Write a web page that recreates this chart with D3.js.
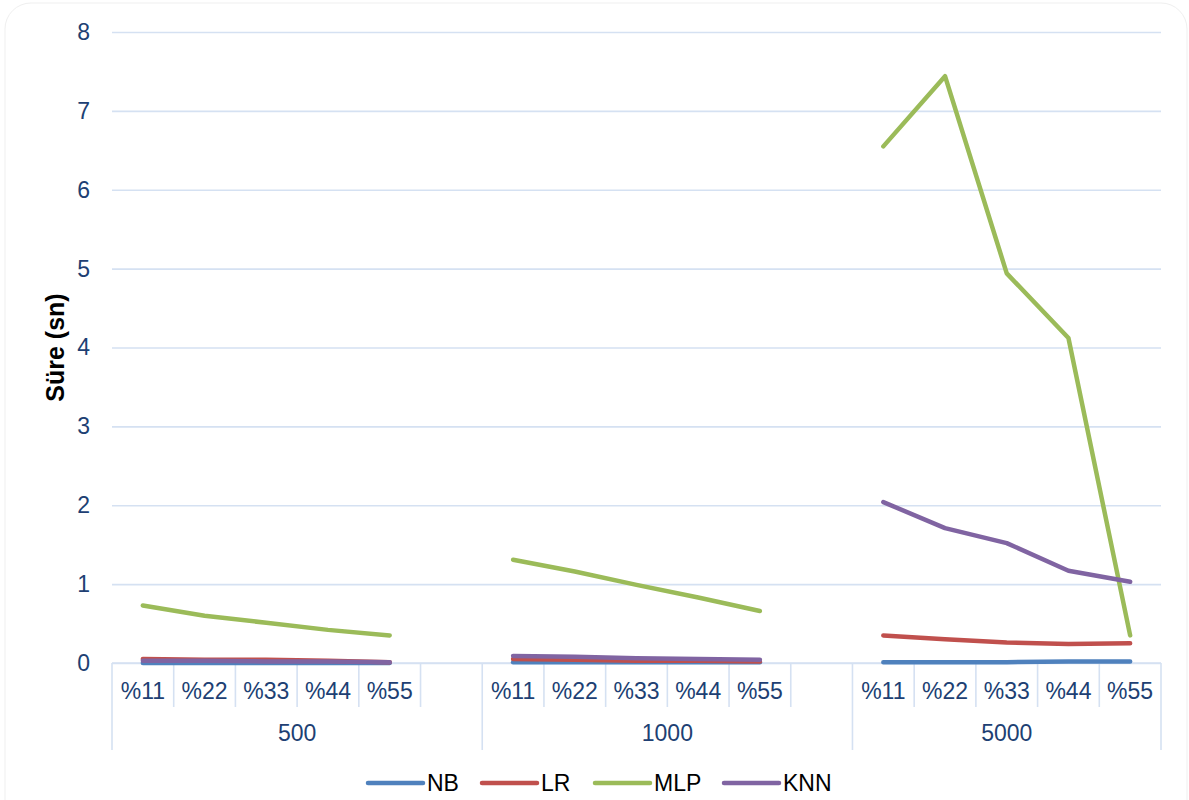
<!DOCTYPE html>
<html>
<head>
<meta charset="utf-8">
<script src="https://cdn.jsdelivr.net/npm/d3@7"></script>
<style>
  html, body { margin: 0; padding: 0; background: #fff; }
  svg { display: block; font-family: "Liberation Sans", Arial, sans-serif; }
</style>
</head>
<body>
<svg id="chart" width="1189" height="800"></svg>
<script>
// ---- data ----
const groups = ["500", "1000", "5000"];
const ratios = ["%11", "%22", "%33", "%44", "%55"];
const seriesNames = ["NB", "LR", "MLP", "KNN"];
const seriesColors = ["#4f81bd", "#c0504d", "#9bbb59", "#8064a2"];
const yTicks = [0, 1, 2, 3, 4, 5, 6, 7, 8];

// values per group (500, 1000, 5000), each in ratio order
const NB  = [[0.00, 0.00, 0.00, 0.00, 0.00], [0.01, 0.01, 0.01, 0.01, 0.01], [0.01, 0.01, 0.01, 0.02, 0.02]];
const LR  = [[0.05, 0.04, 0.04, 0.03, 0.01], [0.05, 0.04, 0.03, 0.03, 0.02], [0.35, 0.30, 0.26, 0.24, 0.25]];
const MLP = [[0.73, 0.60, 0.51, 0.42, 0.35], [1.31, 1.16, 0.99, 0.83, 0.66], [6.55, 7.44, 4.94, 4.12, 0.35]];
const KNN = [[0.03, 0.03, 0.02, 0.02, 0.01], [0.09, 0.08, 0.06, 0.05, 0.04], [2.04, 1.71, 1.52, 1.17, 1.03]];
const seriesValues = [NB, LR, MLP, KNN];

(function () {
// ---- layout ----
const svg = d3.select("#chart");
const pLeft = 112, pRight = 1161, pTop = 32, pBottom = 663;
const axisColor = "#d5e1f2";
const textColor = "#203f73";
const fs = 23;

// rounded outer frame (very faint)
svg.append("rect").attr("x", 5).attr("y", 3).attr("width", 1182).attr("height", 830)
  .attr("rx", 26).attr("fill", "#fff").attr("stroke", "#efefef").attr("stroke-width", 1);

// slots: each group has its ratios, with a blank slot between groups
const slots = [];
groups.forEach((g, gi) => {
  ratios.forEach(r => slots.push({ id: g + "|" + r, group: g, label: r }));
  if (gi < groups.length - 1) slots.push({ id: g + "|blank", group: g, label: "" });
});

const x = d3.scaleBand().domain(slots.map(s => s.id)).range([pLeft, pRight]).paddingInner(0).paddingOuter(0);
const y = d3.scaleLinear().domain([0, 8]).range([pBottom, pTop]);

// gridlines + y labels via axis
const yAxis = d3.axisLeft(y).tickValues(yTicks).tickSize(-(pRight - pLeft)).tickFormat(d3.format("d"));
const gy = svg.append("g").attr("transform", `translate(${pLeft},0)`).call(yAxis);
gy.select(".domain").remove();
gy.selectAll(".tick line").attr("stroke", axisColor).attr("stroke-width", 1.6);
gy.selectAll(".tick text").attr("x", -22).attr("fill", textColor)
  .attr("font-size", fs).attr("font-family", "Liberation Sans, Arial, sans-serif");

// y title
svg.append("text").attr("transform", `translate(64,${(pTop + pBottom) / 2 + 0}) rotate(-90)`)
  .attr("text-anchor", "middle").attr("font-weight", "bold").attr("font-size", 25)
  .attr("fill", "#000").text("Süre (sn)");

// x axis: slot separators
const xg = svg.append("g");
const bw = x.bandwidth();
slots.forEach((s, i) => {
  const x0 = x(s.id);
  const isGroupStart = i === 0 || slots[i - 1].group !== s.group;
  if (!isGroupStart) {
    xg.append("line").attr("x1", x0).attr("x2", x0).attr("y1", pBottom).attr("y2", 707)
      .attr("stroke", axisColor).attr("stroke-width", 1.6);
  }
  if (s.label) {
    xg.append("text").attr("x", x0 + bw / 2).attr("y", 691).attr("dy", "0.35em")
      .attr("text-anchor", "middle").attr("font-size", fs).attr("fill", textColor).text(s.label);
  }
});
// group boundaries and labels
groups.forEach((g, gi) => {
  const gs = slots.filter(s => s.group === g);
  const gx0 = x(gs[0].id), gx1 = x(gs[gs.length - 1].id) + bw;
  xg.append("line").attr("x1", gx0).attr("x2", gx0).attr("y1", pBottom).attr("y2", 750)
    .attr("stroke", axisColor).attr("stroke-width", 1.6);
  if (gi === groups.length - 1) {
    xg.append("line").attr("x1", gx1).attr("x2", gx1).attr("y1", pBottom).attr("y2", 750)
      .attr("stroke", axisColor).attr("stroke-width", 1.6);
  }
  xg.append("text").attr("x", (gx0 + gx1) / 2).attr("y", 733).attr("dy", "0.35em")
    .attr("text-anchor", "middle").attr("font-size", fs).attr("fill", textColor).text(g);
});
// baseline
svg.append("line").attr("x1", pLeft).attr("x2", pRight).attr("y1", pBottom).attr("y2", pBottom)
  .attr("stroke", axisColor).attr("stroke-width", 1.6);

// lines
const line = d3.line().x(d => x(d.id) + bw / 2).y(d => y(d.v));
const lg = svg.append("g");
seriesNames.forEach((name, si) => {
  groups.forEach((g, gi) => {
    const pts = ratios.map((r, ri) => ({ id: g + "|" + r, v: seriesValues[si][gi][ri] }));
    lg.append("path").datum(pts).attr("d", line).attr("fill", "none")
      .attr("stroke", seriesColors[si]).attr("stroke-width", 4.5)
      .attr("stroke-linecap", "round").attr("stroke-linejoin", "round");
  });
});

// legend
const legendX = [368, 482, 595, 724];
const legY = 783;
seriesNames.forEach((name, i) => {
  const lx = legendX[i];
  svg.append("line").attr("x1", lx).attr("x2", lx + 55).attr("y1", legY).attr("y2", legY)
    .attr("stroke", seriesColors[i]).attr("stroke-width", 4.5).attr("stroke-linecap", "round");
  svg.append("text").attr("x", lx + 59).attr("y", legY).attr("dy", "0.35em")
    .attr("font-size", fs).attr("fill", "#000").text(name);
});
})();
</script>
</body>
</html>
